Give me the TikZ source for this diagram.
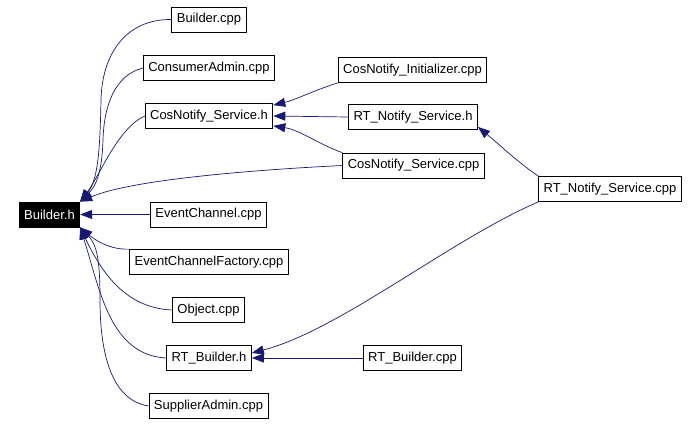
\documentclass[tikz,border=0pt]{standalone}
\usepackage{fontspec}
\setmainfont{Liberation Sans}
\usetikzlibrary{arrows.meta,calc}
\definecolor{edgeblue}{HTML}{191970}
\begin{document}
\begin{tikzpicture}[x=1pt,y=-1pt,
  file/.style={draw=black, line width=0.8pt, fill=white, inner xsep=5pt, inner ysep=0pt,
    minimum height=25pt, font=\fontsize{13}{15}\selectfont},
  root/.style={file, fill=black, text=white},
  dep/.style={draw=edgeblue, line width=0.7pt, -{Triangle[length=12pt,width=9pt]}}]
\useasboundingbox (0,0) rectangle (699,424);
% nodes
\node[root] (bh)   at (49.5,214.5) {Builder.h};
\node[file] (bcpp) at (209,19.5)   {Builder.cpp};
\node[file] (ca)   at (209,68)     {ConsumerAdmin.cpp};
\node[file] (csh)  at (209,116)    {CosNotify\_Service.h};
\node[file] (ci)   at (412.5,70)   {CosNotify\_Initializer.cpp};
\node[file] (rnh)  at (413,117)    {RT\_Notify\_Service.h};
\node[file] (csc)  at (413.5,165.5){CosNotify\_Service.cpp};
\node[file] (rnc)  at (610,189)    {RT\_Notify\_Service.cpp};
\node[file] (ec)   at (208.5,214.5){EventChannel.cpp};
\node[file] (ecf)  at (209,262)    {EventChannelFactory.cpp};
\node[file] (ob)   at (208.5,310)  {Object.cpp};
\node[file] (rbh)  at (209,358)    {RT\_Builder.h};
\node[file] (rbc)  at (412.5,358)  {RT\_Builder.cpp};
\node[file] (sa)   at (208.5,406)  {SupplierAdmin.cpp};
% edges into Builder.h (upper cluster)
\draw[dep] (bcpp.west) .. controls (125,19) and (102,55) .. (101,100)
  .. controls (100,150) and (98,180) .. (bh.north east);
\draw[dep] (ca.west) .. controls (115,75) and (104,105) .. (103,140)
  .. controls (102,170) and (97,185) .. (bh.north east);
\draw[dep] (csh.west) .. controls (118,128) and (100,175) .. (bh.north east);
\draw[dep] (csc.west) .. controls (250,170) and (130,180) .. (bh.north east);
% middle
\draw[dep] (ec) -- (bh);
% lower cluster
\draw[dep] (ecf.north west) .. controls (110,250) and (95,240) .. (bh.south east);
\draw[dep] (ob.west) .. controls (130,308) and (105,280) .. (bh.south east);
\draw[dep] (rbh.west) .. controls (110,355) and (100,290) .. (bh.south east);
\draw[dep] (sa.west) .. controls (110,400) and (100,350) .. (100,300)
  .. controls (100,260) and (97,245) .. (bh.south east);
% into CosNotify_Service.h
\draw[dep] (ci.south west) .. controls (315,90) and (295,100) .. ([yshift=-2pt]csh.north east);
\draw[dep] (rnh.west) -- (csh.east);
\draw[dep] (csc.north west) .. controls (320,145) and (300,130) .. ([yshift=3pt]csh.south east);
% RT_Notify_Service.cpp
\draw[dep] (rnc.north west) .. controls (515,160) and (500,145) .. ([yshift=3pt]rnh.south east);
\draw[dep] (rnc.south west) .. controls (450,240) and (340,330) .. ([yshift=5pt]rbh.east);
\draw[dep] (rbc.west) -- (rbh.east);
\end{tikzpicture}
\end{document}
